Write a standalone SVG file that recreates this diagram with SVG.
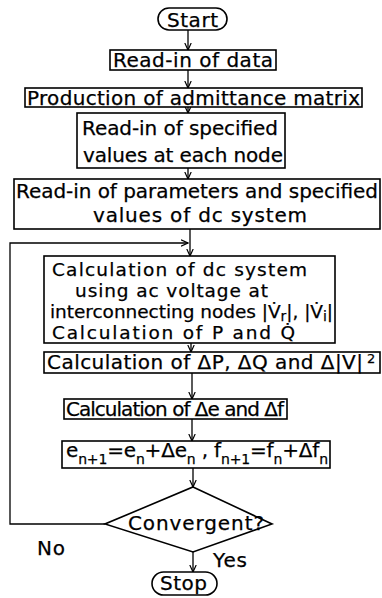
<svg xmlns="http://www.w3.org/2000/svg" width="382" height="598" viewBox="0 0 382 598">
<style>
  .box{fill:#fff;stroke:#000;stroke-width:1.6}
  .t{font-family:"DejaVu Sans","Liberation Sans",sans-serif;font-size:20px;fill:#000;stroke:#000;stroke-width:0.25}
  .m{font-size:18.5px}
  .sub{font-size:14px}
  .sup{font-size:13px}
  .c{fill:none;stroke:#000;stroke-width:1.3}
</style>
<defs>
  <marker id="ah" viewBox="0 0 8 8" refX="7.5" refY="4" markerWidth="8" markerHeight="8" markerUnits="userSpaceOnUse" orient="auto">
    <path d="M0.5,0.8 L7.5,4 L0.5,7.2" fill="none" stroke="#000" stroke-width="1.2"/>
  </marker>
</defs>
<rect width="382" height="598" fill="#fff"/>

<g id="connectors">
  <line class="c" x1="188" y1="30" x2="188" y2="50" marker-end="url(#ah)"/>
  <line class="c" x1="188" y1="70" x2="188" y2="88" marker-end="url(#ah)"/>
  <line class="c" x1="188" y1="107" x2="188" y2="113" marker-end="url(#ah)"/>
  <line class="c" x1="188" y1="168" x2="188" y2="179" marker-end="url(#ah)"/>
  <line class="c" x1="190" y1="229" x2="190" y2="256" marker-end="url(#ah)"/>
  <polyline class="c" points="105,524 10,524 10,243 188,243" marker-end="url(#ah)"/>
  <line class="c" x1="191" y1="343" x2="191" y2="352" marker-end="url(#ah)"/>
  <line class="c" x1="192" y1="373" x2="192" y2="399" marker-end="url(#ah)"/>
  <line class="c" x1="192" y1="419" x2="192" y2="441" marker-end="url(#ah)"/>
  <line class="c" x1="193" y1="468" x2="193" y2="487" marker-end="url(#ah)"/>
  <line class="c" x1="193" y1="552" x2="193" y2="572" marker-end="url(#ah)"/>
</g>

<g id="start">
  <rect class="box" x="158" y="8" width="69" height="22" rx="11"/>
  <text class="t" x="167" y="27" textLength="51" lengthAdjust="spacing">Start</text>
</g>

<g id="read-data">
  <rect class="box" x="110" y="50" width="166" height="20"/>
  <text class="t" x="113" y="67" textLength="160" lengthAdjust="spacing">Read-in of data</text>
</g>

<g id="admittance">
  <rect class="box" x="25" y="88" width="337" height="19"/>
  <text class="t" x="27" y="105" textLength="333" lengthAdjust="spacing">Production of admittance matrix</text>
</g>

<g id="specified-values">
  <rect class="box" x="77" y="113" width="208" height="55"/>
  <text class="t" x="82" y="135" textLength="196" lengthAdjust="spacing">Read-in of specified</text>
  <text class="t" x="83" y="162" textLength="200" lengthAdjust="spacing">values at each node</text>
</g>

<g id="dc-parameters">
  <rect class="box" x="14" y="179" width="366" height="50"/>
  <text class="t" x="16" y="198" textLength="362" lengthAdjust="spacing">Read-in of parameters and specified</text>
  <text class="t" x="93" y="222" textLength="214" lengthAdjust="spacing">values of dc system</text>
</g>

<g id="dc-calculation">
  <rect class="box" x="44" y="256" width="291" height="87"/>
  <text class="t m" x="52" y="276" textLength="255" lengthAdjust="spacing">Calculation of dc system</text>
  <text class="t m" x="75" y="297" textLength="193" lengthAdjust="spacing">using ac voltage at</text>
  <text class="t m" x="50" y="318" textLength="283" lengthAdjust="spacing">interconnecting nodes |V̇<tspan class="sub" dy="3">r</tspan><tspan dy="-3">|, |V̇</tspan><tspan class="sub" dy="3">i</tspan><tspan dy="-3">|</tspan></text>
  <text class="t m" x="52" y="339" textLength="243" lengthAdjust="spacing">Calculation of P and Q̇</text>
</g>

<g id="mismatch">
  <rect class="box" x="44" y="352" width="336" height="21"/>
  <text class="t" x="47" y="369" textLength="316" lengthAdjust="spacing">Calculation of ΔP, ΔQ and Δ|V|</text>
  <text class="t sup" x="367" y="363">2</text>
</g>

<g id="corrections">
  <rect class="box" x="64" y="399" width="223" height="20"/>
  <text class="t" x="66" y="416" textLength="218" lengthAdjust="spacing">Calculation of Δe and Δf</text>
</g>

<g id="update">
  <rect class="box" x="62" y="441" width="268" height="27"/>
  <text class="t" x="66" y="457" textLength="262" lengthAdjust="spacing">e<tspan class="sub" dy="7">n+1</tspan><tspan dy="-7">=e</tspan><tspan class="sub" dy="7">n</tspan><tspan dy="-7">+Δe</tspan><tspan class="sub" dy="7">n</tspan><tspan dy="-7"> , f</tspan><tspan class="sub" dy="7">n+1</tspan><tspan dy="-7">=f</tspan><tspan class="sub" dy="7">n</tspan><tspan dy="-7">+Δf</tspan><tspan class="sub" dy="7">n</tspan></text>
</g>

<g id="convergent">
  <polygon class="box" points="193,487 272,524 193,552 105,524"/>
  <text class="t" x="128" y="530" textLength="136" lengthAdjust="spacing">Convergent?</text>
</g>

<g id="labels">
  <text class="t" x="37" y="555" textLength="28" lengthAdjust="spacing">No</text>
  <text class="t" x="213" y="567" textLength="34" lengthAdjust="spacing">Yes</text>
</g>

<g id="stop">
  <rect class="box" x="152" y="572" width="65" height="23" rx="11.5"/>
  <text class="t" x="160" y="590" textLength="47" lengthAdjust="spacing">Stop</text>
</g>
</svg>
